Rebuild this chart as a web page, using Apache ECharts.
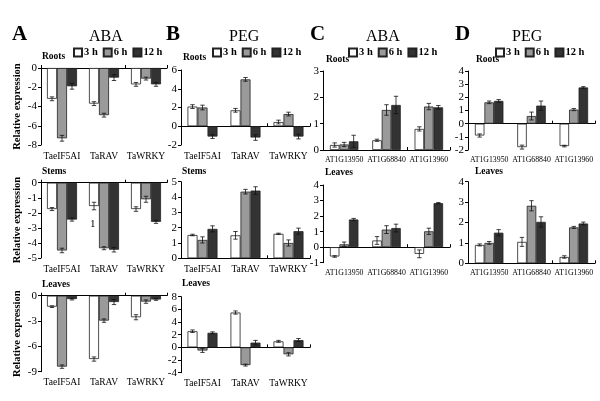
<!DOCTYPE html>
<html><head><meta charset="utf-8">
<script src="https://cdn.jsdelivr.net/npm/echarts@6/dist/echarts.min.js"></script>
<style>html,body{margin:0;padding:0;background:#fff}#c{width:600px;height:401px}</style>
</head><body><div id="c"></div>
<script>
// ---------- data ----------
const wheatGenes = ['TaeIF5AI', 'TaRAV', 'TaWRKY'];
const atGenes = ['AT1G13950', 'AT1G68840', 'AT1G13960'];
const timeLabels = ['3 h', '6 h', '12 h'];

// A: ABA, wheat
const aRoots3h = [-3.2, -3.7, -1.7], aRoots6h = [-7.3, -4.9, -1.1], aRoots12h = [-1.9, -1.0, -1.7];
const aRootsErr3h = [0.2, 0.2, 0.2], aRootsErr6h = [0.3, 0.2, 0.15], aRootsErr12h = [0.3, 0.3, 0.2];
const aStems3h = [-1.75, -1.55, -1.75], aStems6h = [-4.5, -4.35, -1.1], aStems12h = [-2.45, -4.45, -2.6];
const aStemsErr3h = [0.1, 0.25, 0.15], aStemsErr6h = [0.15, 0.1, 0.2], aStemsErr12h = [0.1, 0.15, 0.1];
const aLeaves3h = [-1.3, -7.5, -2.55], aLeaves6h = [-8.4, -2.95, -0.7], aLeaves12h = [-0.4, -0.75, -0.45];
const aLeavesErr3h = [0.1, 0.25, 0.3], aLeavesErr6h = [0.2, 0.2, 0.2], aLeavesErr12h = [0.1, 0.3, 0.1];
// B: PEG, wheat
const bRoots3h = [2.1, 1.7, 0.45], bRoots6h = [2.0, 5.0, 1.3], bRoots12h = [-1.1, -1.2, -1.1];
const bRootsErr3h = [0.2, 0.2, 0.2], bRootsErr6h = [0.25, 0.2, 0.2], bRootsErr12h = [0.2, 0.3, 0.25];
const bStems3h = [1.52, 1.5, 1.6], bStems6h = [1.2, 4.35, 1.0], bStems12h = [1.92, 4.42, 1.77];
const bStemsErr3h = [0.05, 0.25, 0.04], bStemsErr6h = [0.2, 0.15, 0.2], bStemsErr12h = [0.2, 0.25, 0.2];
const bLeaves3h = [2.55, 5.5, 0.95], bLeaves6h = [-0.5, -2.8, -1.1], bLeaves12h = [2.3, 0.75, 1.15];
const bLeavesErr3h = [0.2, 0.25, 0.15], bLeavesErr6h = [0.3, 0.15, 0.25], bLeavesErr12h = [0.15, 0.35, 0.25];
// C: ABA, Arabidopsis
const cRoots3h = [0.19, 0.37, 0.8], cRoots6h = [0.21, 1.52, 1.65], cRoots12h = [0.33, 1.71, 1.62];
const cRootsErr3h = [0.08, 0.04, 0.08], cRootsErr6h = [0.08, 0.2, 0.12], cRootsErr12h = [0.23, 0.33, 0.07];
const cLeaves3h = [-0.6, 0.43, -0.43], cLeaves6h = [0.18, 1.13, 1.02], cLeaves12h = [1.78, 1.23, 2.83];
const cLeavesErr3h = [0.05, 0.25, 0.25], cLeavesErr6h = [0.15, 0.25, 0.2], cLeavesErr12h = [0.07, 0.25, 0.04];
// D: PEG, Arabidopsis
const dRoots3h = [-0.9, -1.78, -1.7], dRoots6h = [1.62, 0.58, 1.07], dRoots12h = [1.73, 1.37, 2.75];
const dRootsErr3h = [0.12, 0.15, 0.06], dRootsErr6h = [0.1, 0.3, 0.08], dRootsErr12h = [0.1, 0.35, 0.06];
const dLeaves3h = [0.9, 1.05, 0.31], dLeaves6h = [1.0, 2.82, 1.76], dLeaves12h = [1.5, 2.03, 1.95];
const dLeavesErr3h = [0.05, 0.22, 0.06], dLeavesErr6h = [0.07, 0.25, 0.05], dLeavesErr12h = [0.15, 0.25, 0.07];

// ---------- layout ----------
const FONT = '"Liberation Serif", "DejaVu Serif", serif';
const panels = [
  {cats: wheatGenes, left: 41, top: 68, width: 126, height: 77, min: -8, max: 0, interval: 2, bw: 10,
   vals: [aRoots3h, aRoots6h, aRoots12h], errs: [aRootsErr3h, aRootsErr6h, aRootsErr12h]},
  {cats: wheatGenes, left: 41, top: 182.7, width: 126, height: 75.3, min: -5, max: 0, interval: 1, bw: 10,
   vals: [aStems3h, aStems6h, aStems12h], errs: [aStemsErr3h, aStemsErr6h, aStemsErr12h]},
  {cats: wheatGenes, left: 41, top: 295.7, width: 126, height: 76, min: -9, max: 0, interval: 3, bw: 10,
   vals: [aLeaves3h, aLeaves6h, aLeaves12h], errs: [aLeavesErr3h, aLeavesErr6h, aLeavesErr12h]},
  {cats: wheatGenes, left: 181, top: 70, width: 129, height: 75, min: -2, max: 6, interval: 2, bw: 10,
   vals: [bRoots3h, bRoots6h, bRoots12h], errs: [bRootsErr3h, bRootsErr6h, bRootsErr12h]},
  {cats: wheatGenes, left: 181, top: 181.7, width: 129, height: 76.6, min: 0, max: 5, interval: 1, bw: 10,
   vals: [bStems3h, bStems6h, bStems12h], errs: [bStemsErr3h, bStemsErr6h, bStemsErr12h]},
  {cats: wheatGenes, left: 181, top: 296.7, width: 129, height: 76, min: -4, max: 8, interval: 2, bw: 10,
   vals: [bLeaves3h, bLeaves6h, bLeaves12h], errs: [bLeavesErr3h, bLeavesErr6h, bLeavesErr12h]},
  {cats: atGenes, left: 323, top: 71, width: 127, height: 79, min: 0, max: 3, interval: 1, bw: 9.5,
   vals: [cRoots3h, cRoots6h, cRoots12h], errs: [cRootsErr3h, cRootsErr6h, cRootsErr12h]},
  {cats: atGenes, left: 323, top: 185, width: 127, height: 77.7, min: -1, max: 4, interval: 1, bw: 9.5,
   vals: [cLeaves3h, cLeaves6h, cLeaves12h], errs: [cLeavesErr3h, cLeavesErr6h, cLeavesErr12h]},
  {cats: atGenes, left: 468, top: 71, width: 127, height: 79, min: -2, max: 4, interval: 1, bw: 9.5,
   vals: [dRoots3h, dRoots6h, dRoots12h], errs: [dRootsErr3h, dRootsErr6h, dRootsErr12h]},
  {cats: atGenes, left: 468, top: 181.7, width: 127, height: 81.6, min: 0, max: 4, interval: 1, bw: 9.5,
   vals: [dLeaves3h, dLeaves6h, dLeaves12h], errs: [dLeavesErr3h, dLeavesErr6h, dLeavesErr12h]}
];
const fills = ['#ffffff', '#9a9a9a', '#333333'];

const grid = [], xAxis = [], yAxis = [], series = [];
panels.forEach((p, i) => {
  grid.push({left: p.left, top: p.top, width: p.width, height: p.height, containLabel: false});
  // label axis (bottom of grid, no line)
  xAxis.push({type: 'category', gridIndex: i, data: p.cats, position: 'bottom',
    axisLine: {show: false, onZero: false}, axisTick: {show: false},
    axisLabel: {interval: 0, hideOverlap: false, color: '#000', fontFamily: FONT,
      fontSize: p.cats === atGenes ? 7.8 : 9.5, margin: 6}});
  // zero line axis
  xAxis.push({type: 'category', gridIndex: i, data: p.cats, position: 'bottom',
    axisLine: {show: true, onZero: true, lineStyle: {color: '#000', width: 1}},
    axisTick: {show: true, inside: true, length: 3, lineStyle: {color: '#000'}},
    axisLabel: {show: false}});
  yAxis.push({type: 'value', gridIndex: i, min: p.min, max: p.max, interval: p.interval,
    axisLine: {show: true, lineStyle: {color: '#000', width: 1}},
    axisTick: {show: true, length: 3, lineStyle: {color: '#000'}},
    splitLine: {show: false},
    axisLabel: {color: '#000', fontFamily: FONT, fontSize: 11, margin: 4}});
  for (let s = 0; s < 3; s++) {
    series.push({type: 'bar', name: timeLabels[s], xAxisIndex: 2 * i, yAxisIndex: i,
      data: p.vals[s], barWidth: p.bw, barGap: '0%',
      itemStyle: {color: fills[s], borderColor: '#222', borderWidth: 0.8}, emphasis: {disabled: true},
      silent: true, z: 2});
  }
  for (let s = 0; s < 3; s++) {
    const bw = p.bw, off = s - 1;
    series.push({type: 'custom', name: 'err', xAxisIndex: 2 * i, yAxisIndex: i, z: 5, silent: true,
      data: p.vals[s].map((v, k) => [k, v, p.errs[s][k]]),
      renderItem: function (params, api) {
        const x = api.value(0), y = api.value(1), e = api.value(2);
        const hi = api.coord([x, y + e]), lo = api.coord([x, y - e]);
        const cx = hi[0] + off * bw;
        const hw = 2.2;
        const st = {stroke: '#111', lineWidth: 0.8};
        return {type: 'group', children: [
          {type: 'line', shape: {x1: cx, y1: hi[1], x2: cx, y2: lo[1]}, style: st},
          {type: 'line', shape: {x1: cx - hw, y1: hi[1], x2: cx + hw, y2: hi[1]}, style: st},
          {type: 'line', shape: {x1: cx - hw, y1: lo[1], x2: cx + hw, y2: lo[1]}, style: st}
        ]};
      }});
  }
});

function legendAt(left) {
  return {data: timeLabels, left: left, top: 42, itemWidth: 8, itemHeight: 8, itemGap: 5,
    icon: 'rect', selectedMode: false,
    textStyle: {fontFamily: FONT, fontWeight: 'bold', fontSize: 10.5, color: '#000', padding: [0, 0, 0, -3]}};
}

function txt(x, y, t, size, bold) {
  return {type: 'text', x: x, y: y, silent: true,
    style: {text: t, fontFamily: FONT, fontSize: size, fill: '#000', fontWeight: bold === false ? 'normal' : 'bold',
      textAlign: 'left', textVerticalAlign: 'middle'}};
}
const graphics = [
  txt(12, 35, 'A', 21), txt(166, 35, 'B', 21), txt(310, 35, 'C', 21), txt(455, 35, 'D', 21),
  txt(89, 37, 'ABA', 16, false), txt(229, 37, 'PEG', 16, false),
  txt(366, 37, 'ABA', 16, false), txt(512, 37, 'PEG', 16, false),
  txt(42, 57, 'Roots', 9.5), txt(42, 172, 'Stems', 9.5), txt(42, 285, 'Leaves', 9.5),
  txt(183, 58, 'Roots', 9.5), txt(182, 172, 'Stems', 9.5), txt(182, 284, 'Leaves', 9.5),
  txt(326, 60, 'Roots', 9.5), txt(325, 173, 'Leaves', 9.5),
  txt(476, 60, 'Roots', 9.5), txt(475, 172, 'Leaves', 9.5),
  txt(90, 224, '1', 11, false)
];
[106.5, 220, 333.7].forEach((cy) => {
  graphics.push({type: 'text', x: 17, y: cy, rotation: Math.PI / 2, silent: true,
    style: {text: 'Relative expression', fontFamily: FONT, fontSize: 10.5, fontWeight: 'bold', fill: '#000',
      textAlign: 'center', textVerticalAlign: 'middle'}});
});

const chart = echarts.init(document.getElementById('c'), null, {renderer: 'canvas'});
chart.setOption({
  animation: false,
  backgroundColor: '#fff',
  legend: [legendAt(68), legendAt(207), legendAt(343), legendAt(490)],
  grid, xAxis, yAxis, series,
  graphic: graphics
});
</script></body></html>
